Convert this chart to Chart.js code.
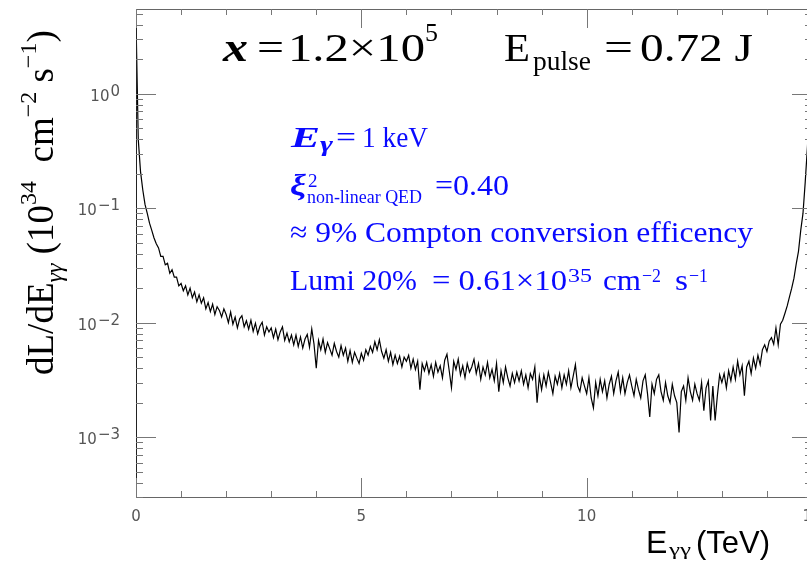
<!DOCTYPE html>
<html>
<head>
<meta charset="utf-8">
<script src="https://cdn.jsdelivr.net/npm/chart.js@4.4.1/dist/chart.umd.min.js"></script>
<style>
  html, body { margin: 0; padding: 0; overflow: hidden; background: #fff; }
  #wrap { position: absolute; left: 0; top: 0; width: 830px; height: 561px; }
</style>
</head>
<body>
<div id="wrap"><canvas id="lumiChart"></canvas></div>
<script>
// histogram bins in E_gamma-gamma (TeV)
const binWidth = 0.05;
const xTickLabels = ['0', '5', '10', '15'];
const yTickExponents = [0, -1, -2, -3];

// dL/dE (10^34 cm^-2 s^-1) per bin
const lumi = [
  // 0.00 - 0.45
  4.4, 0.40, 0.21, 0.145, 0.108, 0.090, 0.074, 0.064, 0.055, 0.049,
  // 0.50 - 0.95
  0.045, 0.038, 0.038, 0.032, 0.033, 0.027, 0.029, 0.025, 0.025, 0.021,
  // 1.00
  0.022, 0.019, 0.021, 0.0175, 0.020, 0.0165, 0.0185, 0.0152, 0.0175, 0.0148,
  // 1.50
  0.0165, 0.0132, 0.0150, 0.0125, 0.0145, 0.0118, 0.0138, 0.0128, 0.0112, 0.0132,
  // 2.00
  0.0118, 0.0100, 0.0124, 0.0097, 0.0112, 0.0090, 0.0108, 0.0115, 0.0092, 0.0104,
  // 2.50
  0.0088, 0.0105, 0.0084, 0.0099, 0.0080, 0.0093, 0.0101, 0.0078, 0.0092, 0.0083,
  // 3.00
  0.0090, 0.0074, 0.0088, 0.0071, 0.0083, 0.0092, 0.0070, 0.0081, 0.0068, 0.0078,
  // 3.50
  0.0064, 0.0078, 0.0062, 0.0075, 0.0060, 0.0072, 0.0079, 0.0061, 0.0088, 0.0065,
  // 4.00
  0.0040, 0.0070, 0.0058, 0.0072, 0.0055, 0.0067, 0.0059, 0.0052, 0.0066, 0.0056,
  // 4.50
  0.0050, 0.0063, 0.0052, 0.0060, 0.0046, 0.0057, 0.0045, 0.0055, 0.0049, 0.0044,
  // 5.00
  0.0054, 0.0047, 0.0058, 0.0052, 0.0062, 0.0055, 0.0068, 0.0058, 0.0071, 0.0056,
  // 5.50
  0.0049, 0.0058, 0.0046, 0.0055, 0.0043, 0.0052, 0.0044, 0.0051, 0.0041, 0.0050,
  // 6.00
  0.0046, 0.0052, 0.0040, 0.0048, 0.0039, 0.0046, 0.0026, 0.0044, 0.0038, 0.0045,
  // 6.50
  0.0036, 0.0043, 0.0034, 0.0045, 0.0037, 0.0042, 0.0033, 0.0047, 0.0053, 0.0038,
  // 7.00
  0.0027, 0.0046, 0.0039, 0.0048, 0.0035, 0.0042, 0.0033, 0.0044, 0.0037, 0.0041,
  // 7.50
  0.0048, 0.0036, 0.0044, 0.0032, 0.0041, 0.0035, 0.0045, 0.0033, 0.0039, 0.0031,
  // 8.00
  0.0044, 0.0025, 0.0038, 0.0030, 0.0041, 0.0033, 0.0028, 0.0036, 0.0030, 0.0037,
  // 8.50
  0.0031, 0.0038, 0.0029, 0.0035, 0.0027, 0.0036, 0.0032, 0.0041, 0.0020, 0.0034,
  // 9.00
  0.0026, 0.0035, 0.0028, 0.0037, 0.0030, 0.0024, 0.0034, 0.0029, 0.0036, 0.0027,
  // 9.50
  0.0035, 0.0029, 0.0038, 0.0027, 0.0034, 0.0043, 0.0028, 0.0025, 0.0033, 0.0028,
  // 10.00
  0.0024, 0.0033, 0.0022, 0.0018, 0.0030, 0.0023, 0.0032, 0.0025, 0.0031, 0.0022,
  // 10.50
  0.0029, 0.0034, 0.0024, 0.0031, 0.0037, 0.0025, 0.0033, 0.0024, 0.0030, 0.0035,
  // 11.00
  0.0028, 0.0023, 0.0032, 0.0026, 0.0022, 0.0031, 0.0035, 0.0024, 0.0015, 0.0029,
  // 11.50
  0.0024, 0.0032, 0.0035, 0.0025, 0.0021, 0.0030, 0.0023, 0.0020, 0.0029, 0.0023,
  // 12.00
  0.0020, 0.0011, 0.0025, 0.0028, 0.0021, 0.0033, 0.0025, 0.0021, 0.0029, 0.0024,
  // 12.50
  0.0021, 0.0030, 0.0017, 0.0027, 0.0031, 0.0014, 0.0028, 0.0014, 0.0023, 0.0035,
  // 13.00
  0.0030, 0.0036, 0.0027, 0.0038, 0.0031, 0.0041, 0.0032, 0.0046, 0.0035, 0.0042,
  // 13.50
  0.0023, 0.0041, 0.0046, 0.0036, 0.0049, 0.0040, 0.0052, 0.0043, 0.0058, 0.0064,
  // 14.00
  0.0056, 0.0069, 0.0074, 0.0065, 0.0090, 0.0064, 0.0097, 0.0105, 0.0121, 0.0140,
  // 14.50
  0.0168, 0.0200, 0.0245, 0.0326, 0.0420, 0.064, 0.090, 0.17, 0.35, 0.90,
  // 15.00
  4.0
];

const points = lumi.map((v, i) => ({ x: i * binWidth, y: v }));

const SERIF = '"Liberation Serif", "Times New Roman", serif';
const SANS = '"Liberation Sans", Arial, sans-serif';
const TICKFONT = '"DejaVu Sans", sans-serif';
const BLUE = '#0a0aff';

// draw a string, optionally squeezed/stretched so it spans x0..x1
function txt(ctx, s, x0, y, font, color, x1) {
  ctx.save();
  ctx.font = font;
  ctx.fillStyle = color;
  ctx.textAlign = 'left';
  ctx.textBaseline = 'alphabetic';
  let sx = 1;
  if (x1) sx = (x1 - x0) / ctx.measureText(s).width;
  ctx.translate(x0, y);
  ctx.scale(sx, 1);
  ctx.fillText(s, 0, 0);
  ctx.restore();
}

const framePlugin = {
  id: 'frame',
  afterDraw(chart) {
    const ctx = chart.ctx;
    const { left, right, top, bottom } = chart.chartArea;
    const xs = chart.scales.x, ys = chart.scales.y;

    // frame
    ctx.save();
    ctx.lineWidth = 1;
    ctx.strokeStyle = '#666';
    ctx.beginPath();
    ctx.moveTo(left, top + 0.5); ctx.lineTo(right, top + 0.5);
    ctx.moveTo(left, bottom + 0.5); ctx.lineTo(right, bottom + 0.5);
    ctx.moveTo(right - 0.5, top); ctx.lineTo(right - 0.5, bottom);
    ctx.stroke();
    ctx.strokeStyle = '#222';
    ctx.beginPath();
    ctx.moveTo(left + 0.5, top); ctx.lineTo(left + 0.5, bottom + 1);
    ctx.stroke();

    // ticks
    ctx.strokeStyle = '#777';
    ctx.beginPath();
    for (let e = -4; e <= 0; e++) {
      for (let m = 1; m <= 9; m++) {
        const v = m * Math.pow(10, e);
        if (v < ys.min || v > ys.max) continue;
        const py = Math.round(ys.getPixelForValue(v)) + 0.5;
        const len = m === 1 ? 20 : 7;
        ctx.moveTo(left, py); ctx.lineTo(left + len, py);
        ctx.moveTo(right, py); ctx.lineTo(right - len, py);
      }
    }
    for (let t = 0; t <= 15; t++) {
      const px = Math.round(xs.getPixelForValue(t)) + 0.5;
      const len = t % 5 === 0 ? 19 : 6;
      ctx.moveTo(px, bottom); ctx.lineTo(px, bottom - len);
      ctx.moveTo(px, top); ctx.lineTo(px, top + len);
    }
    ctx.stroke();

    // x tick labels
    ctx.fillStyle = '#555';
    ctx.font = '15px ' + TICKFONT;
    ctx.textAlign = 'center';
    ctx.textBaseline = 'alphabetic';
    xTickLabels.forEach(l => {
      ctx.fillText(l, xs.getPixelForValue(Number(l)), bottom + 24);
    });

    // y tick labels 10^n
    ctx.textAlign = 'right';
    yTickExponents.forEach(n => {
      const py = ys.getPixelForValue(Math.pow(10, n));
      const ex = n === 0 ? '0' : '\u2212' + (-n);
      const ew = ctx.measureText(ex).width;
      ctx.fillText(ex, 120, py + 2);
      ctx.fillText('10', 120 - ew - 1, py + 7);
    });
    ctx.restore();

    // header
    txt(ctx, 'x', 223, 61, 'bold italic 40px ' + SERIF, '#000', 248);
    txt(ctx, '=', 257, 61, '40px ' + SERIF, '#000', 284);
    txt(ctx, '1.2\u00d710', 288, 61, '40px ' + SERIF, '#000', 425);
    txt(ctx, '5', 425, 41, '26px ' + SERIF, '#000', 438);
    txt(ctx, 'E', 504, 61, '40px ' + SERIF, '#000', 530);
    txt(ctx, 'pulse', 533, 70, '27px ' + SERIF, '#000', 591);
    txt(ctx, '=', 604, 61, '40px ' + SERIF, '#000', 633);
    txt(ctx, '0.72 J', 640, 61, '40px ' + SERIF, '#000', 753);

    // blue annotation block
    txt(ctx, 'E', 291, 147, 'bold italic 30px ' + SERIF, BLUE, 320);
    txt(ctx, '\u03b3', 320, 151, 'bold italic 20px ' + SERIF, BLUE, 333);
    txt(ctx, '=', 336, 147, '30px ' + SERIF, BLUE, 356);
    txt(ctx, '1 keV', 362, 147, '30px ' + SERIF, BLUE, 428);

    txt(ctx, '\u03be', 290, 195, 'bold italic 30px ' + SERIF, BLUE, 306);
    txt(ctx, '2', 308, 187, '19px ' + SERIF, BLUE);
    txt(ctx, 'non-linear QED', 307, 203, '18px ' + SERIF, BLUE, 422);
    txt(ctx, '=0.40', 435, 195, '30px ' + SERIF, BLUE, 509);

    txt(ctx, '\u2248 9% Compton conversion efficency', 290, 242, '30px ' + SERIF, BLUE, 753);

    txt(ctx, 'Lumi 20%', 290, 290, '30px ' + SERIF, BLUE, 417);
    txt(ctx, '= 0.61\u00d710', 432, 290, '30px ' + SERIF, BLUE, 567);
    txt(ctx, '35', 568, 282, '19px ' + SERIF, BLUE, 592);
    txt(ctx, 'cm', 603, 290, '30px ' + SERIF, BLUE, 641);
    txt(ctx, '\u22122', 642, 282, '19px ' + SERIF, BLUE, 661);
    txt(ctx, 's', 675, 290, '30px ' + SERIF, BLUE, 688);
    txt(ctx, '\u22121', 689, 282, '19px ' + SERIF, BLUE, 708);

    // x axis title
    txt(ctx, 'E', 646, 553, '32px ' + SANS, '#000');
    txt(ctx, '\u03b3\u03b3', 669, 555, '16px ' + SERIF, '#000', 691);
    txt(ctx, '(TeV)', 696, 553, '32px ' + SANS, '#000', 770);

    // y axis title, rotated
    ctx.save();
    ctx.translate(53, 375);
    ctx.rotate(-Math.PI / 2);
    ctx.fillStyle = '#000';
    ctx.textBaseline = 'alphabetic';
    const runs = [
      ['dL/dE', '37px ' + SERIF, 0],
      ['\u03b3\u03b3', 'italic 24px ' + SERIF, 9],
      [' (10', '37px ' + SERIF, 0],
      ['34', '24px ' + SERIF, -17],
      ['  cm', '37px ' + SERIF, 0],
      ['\u22122', '24px ' + SERIF, -17],
      [' s', '37px ' + SERIF, 0],
      ['\u22121', '24px ' + SERIF, -17],
      [')', '37px ' + SERIF, 0]
    ];
    let cx = 0;
    runs.forEach(([s, f, dy]) => {
      ctx.font = f;
      ctx.fillText(s, cx, dy);
      cx += ctx.measureText(s).width;
    });
    ctx.restore();
  }
};

new Chart(document.getElementById('lumiChart'), {
  type: 'line',
  data: {
    datasets: [{
      data: points,
      borderColor: '#000',
      borderWidth: 1.2,
      pointRadius: 0,
      tension: 0,
      fill: false
    }]
  },
  options: {
    responsive: true,
    maintainAspectRatio: false,
    animation: false,
    layout: { padding: { left: 136, top: 9, right: 18, bottom: 64 } },
    scales: {
      x: { type: 'linear', min: 0, max: 15, display: false },
      y: { type: 'logarithmic', min: 3.33e-4, max: 5.5, display: false }
    },
    plugins: { legend: { display: false }, tooltip: { enabled: false } }
  },
  plugins: [framePlugin]
});
</script>
</body>
</html>
